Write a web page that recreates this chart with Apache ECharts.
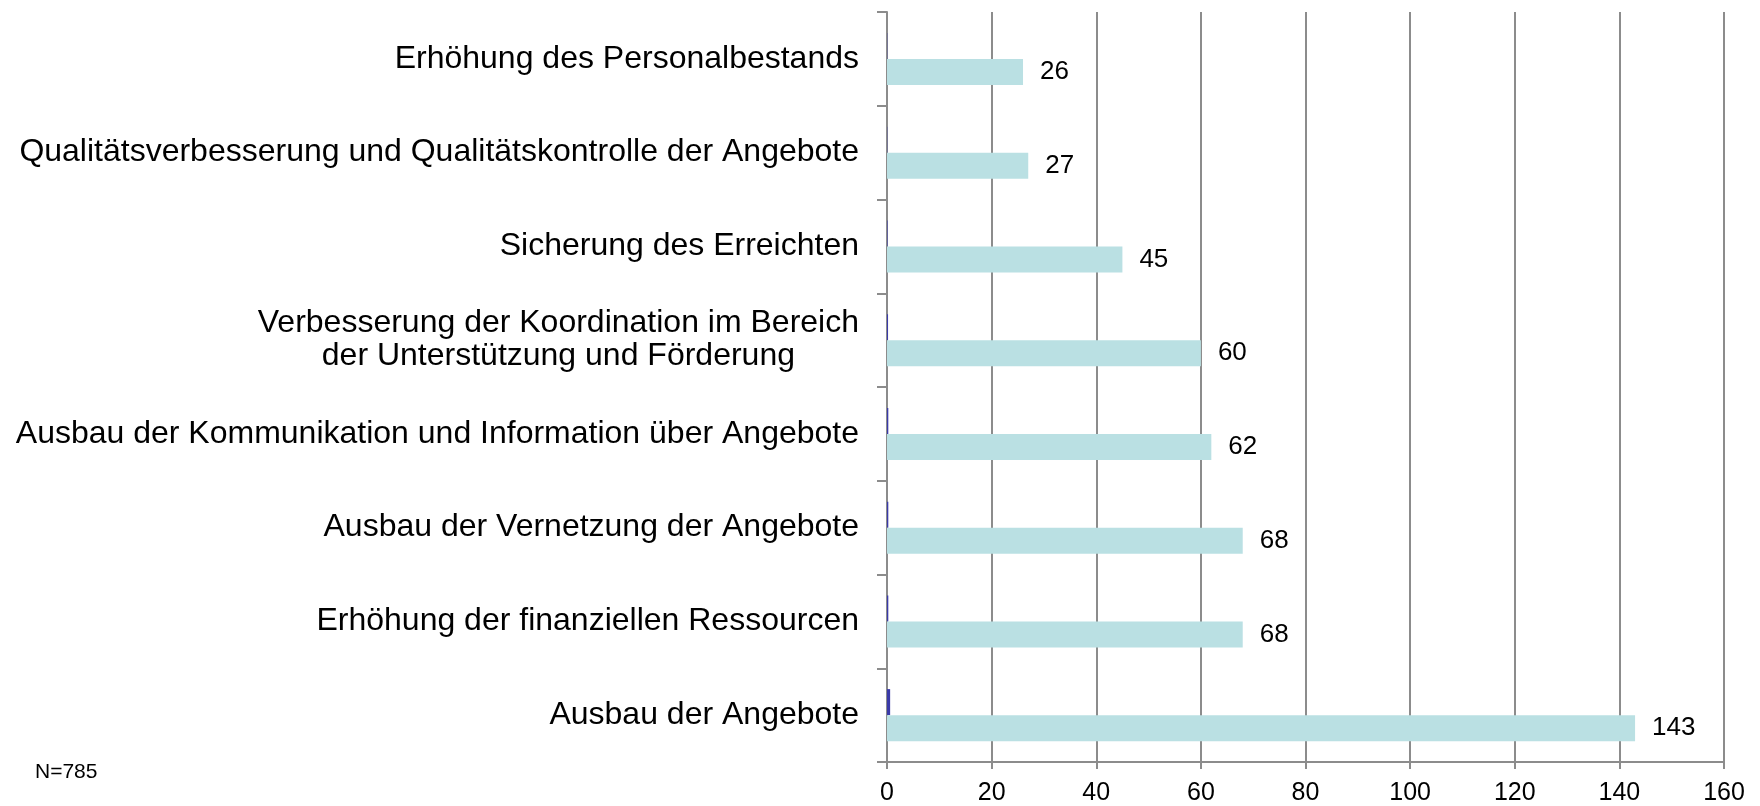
<!DOCTYPE html>
<html>
<head>
<meta charset="utf-8">
<script src="https://cdn.jsdelivr.net/npm/echarts@6/dist/echarts.min.js"></script>
<style>
  html, body { margin: 0; padding: 0; background: #fff; }
  #chart { width: 1760px; height: 806px; }
</style>
</head>
<body>
<div id="chart"></div>
<script>
// Kategorien von oben nach unten
var categories = [
  'Erhöhung des Personalbestands',
  'Qualitätsverbesserung und Qualitätskontrolle der Angebote',
  'Sicherung des Erreichten',
  'Verbesserung der Koordination im Bereich\nder Unterstützung und Förderung',
  'Ausbau der Kommunikation und Information über Angebote',
  'Ausbau der Vernetzung der Angebote',
  'Erhöhung der finanziellen Ressourcen',
  'Ausbau der Angebote'
];
var nennungen = [26, 27, 45, 60, 62, 68, 68, 143];
// dünne dunkle Balken direkt an der Achse
var nebenwerte = [0.05, 0.05, 0.1, 0.2, 0.25, 0.25, 0.25, 0.6];
var xTicks = [0, 20, 40, 60, 80, 100, 120, 140, 160];

var font = '"Liberation Sans", Arial, sans-serif';
var grau = '#8c8c8c';

var myChart = echarts.init(document.getElementById('chart'));
var option = {
  animation: false,
  textStyle: { fontFamily: font },
  grid: { left: 887, right: 36, top: 12, bottom: 44, containLabel: false, outerBoundsMode: 'none' },
  xAxis: {
    type: 'value',
    min: xTicks[0],
    max: xTicks[xTicks.length - 1],
    interval: 20,
    axisLine: { show: true, lineStyle: { color: grau, width: 2 } },
    axisTick: { show: true, length: 7, lineStyle: { color: grau, width: 2 } },
    splitLine: { show: true, lineStyle: { color: grau, width: 2 } },
    axisLabel: { fontSize: 25, color: '#000', margin: 19, fontFamily: font }
  },
  yAxis: {
    type: 'category',
    inverse: true,
    data: categories,
    axisLine: { show: true, lineStyle: { color: grau, width: 2 } },
    axisTick: { show: true, length: 10, lineStyle: { color: grau, width: 2 } },
    axisLabel: {
      fontSize: 32,
      color: '#000',
      margin: 28,
      lineHeight: 33,
      fontFamily: font,
      formatter: function (v) {
        // mehrzeilige Beschriftung zentriert
        return v.split('\n').map(function (z) { return '{c|' + z + '}'; }).join('\n');
      },
      rich: { c: { fontSize: 32, lineHeight: 33, align: 'center', color: '#000', fontFamily: font } }
    }
  },
  series: [
    {
      name: 'neben',
      type: 'bar',
      data: nebenwerte,
      barWidth: 26,
      barGap: '0%',
      itemStyle: { color: '#3a3aa8' }
    },
    {
      name: 'Nennungen',
      type: 'bar',
      data: nennungen,
      barWidth: 26,
      barGap: '0%',
      itemStyle: { color: '#bae0e3' },
      label: {
        show: true,
        position: 'right',
        distance: 17,
        fontSize: 26,
        color: '#000',
        fontFamily: font
      }
    }
  ],
  graphic: [{
    type: 'text',
    left: 35,
    top: 762,
    style: { text: 'N=785', fontSize: 21, fill: '#000', fontFamily: font }
  }]
};
myChart.setOption(option);
</script>
</body>
</html>
